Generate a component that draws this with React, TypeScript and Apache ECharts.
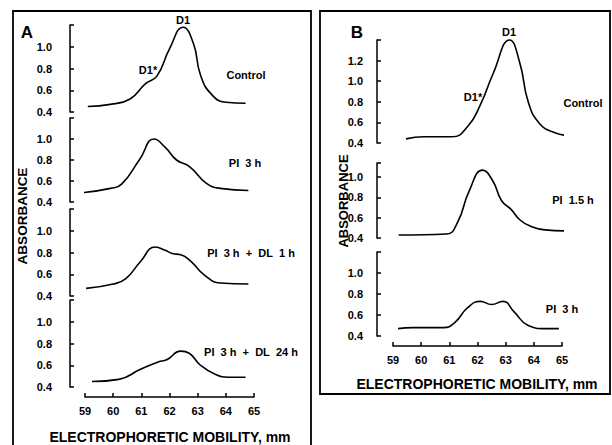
import React, { useEffect, useRef } from "react";
import * as echarts from "echarts";

// Electrophoretic mobility (mm) vs absorbance — panel A
const aControl = [[59.1,0.45],[59.9,0.47],[60.6,0.52],[61.15,0.66],[61.55,0.73],[62.0,0.98],[62.48,1.18],[62.85,1.03],[63.1,0.74],[63.5,0.56],[64.0,0.49],[64.7,0.48]];
const aPI3 = [[58.95,0.49],[59.9,0.53],[60.3,0.57],[60.95,0.81],[61.45,1.0],[61.85,0.92],[62.25,0.8],[62.7,0.74],[63.3,0.58],[63.8,0.53],[64.8,0.51]];
const aPI3DL1 = [[59.04,0.47],[60.0,0.51],[60.45,0.56],[60.95,0.71],[61.5,0.85],[61.85,0.82],[62.1,0.79],[62.4,0.78],[62.75,0.72],[63.25,0.59],[63.8,0.52],[64.8,0.51]];
const aPI3DL24 = [[59.25,0.45],[60.2,0.47],[60.95,0.56],[61.6,0.63],[61.9,0.65],[62.4,0.73],[62.7,0.71],[63.1,0.6],[63.6,0.52],[64.1,0.49],[64.7,0.49]];
// panel B
const bControl = [[59.46,0.44],[60.1,0.46],[61.1,0.46],[61.65,0.56],[62.1,0.77],[62.55,1.07],[63.14,1.4],[63.5,1.18],[63.8,0.8],[64.2,0.59],[64.75,0.5],[65.32,0.47]];
const bPI15 = [[59.2,0.43],[60.9,0.44],[61.3,0.56],[61.7,0.86],[62.18,1.07],[62.55,0.96],[62.85,0.77],[63.2,0.68],[63.5,0.58],[63.85,0.52],[64.4,0.48],[65.21,0.47]];
const bPI3 = [[59.18,0.47],[59.7,0.48],[60.8,0.48],[61.2,0.53],[61.65,0.67],[62.1,0.73],[62.5,0.7],[62.9,0.73],[63.3,0.63],[63.8,0.5],[64.4,0.47],[64.89,0.47]];

const xTicksMin = 59;
const xTicksMax = 65;

const FONT = "Liberation Sans";
const NB = "\u00a0";

export default function App() {
  const ref = useRef<HTMLDivElement>(null);
  useEffect(() => {
    if (!ref.current) return;
    const chart = echarts.init(ref.current, undefined, { renderer: "svg" });

    const panels = [
      { left: 85, top: 25, height: 87, yMax: 1.2, labelMax: 1.0, yOff: 15, lm: 18, data: aControl, showX: false },
      { left: 85, top: 118, height: 84, yMax: 1.2, labelMax: 1.0, yOff: 15, lm: 18, data: aPI3, showX: false },
      { left: 85, top: 209, height: 87, yMax: 1.2, labelMax: 1.0, yOff: 15, lm: 18, data: aPI3DL1, showX: false },
      { left: 85, top: 300, height: 87, yMax: 1.2, labelMax: 1.0, yOff: 15, lm: 18, data: aPI3DL24, showX: true },
      { left: 393, top: 40, height: 103, yMax: 1.4, labelMax: 1.2, yOff: 16, lm: 14, data: bControl, showX: false },
      { left: 393, top: 163, height: 75, yMax: 1.14, labelMax: 1.0, yOff: 16, lm: 14, data: bPI15, showX: false },
      { left: 393, top: 252, height: 84, yMax: 1.2, labelMax: 1.0, yOff: 16, lm: 14, data: bPI3, showX: true },
    ];

    const black = "#000";
    const grid = panels.map((p) => ({ left: p.left, top: p.top, width: 169, height: p.height }));
    const xAxis = panels.map((p, i) => ({
      gridIndex: i,
      type: "value",
      min: xTicksMin,
      max: xTicksMax,
      interval: 1,
      show: p.showX,
      offset: 10,
      axisLine: { show: true, lineStyle: { color: black, width: 1.5 } },
      axisTick: { show: true, inside: true, length: 4, lineStyle: { color: black, width: 1.5 } },
      axisLabel: { color: black, fontSize: 11, fontWeight: "bold", fontFamily: FONT, margin: 8 },
      splitLine: { show: false },
    }));
    const yAxis = panels.map((p, i) => ({
      gridIndex: i,
      type: "value",
      min: 0.4,
      max: p.yMax,
      interval: 0.2,
      offset: p.yOff,
      axisLine: { show: true, lineStyle: { color: black, width: 1.5 } },
      axisTick: { show: true, inside: true, length: 4, lineStyle: { color: black, width: 1.5 } },
      axisLabel: {
        color: black,
        fontSize: 11,
        fontWeight: "bold",
        fontFamily: FONT,
        margin: p.lm,
        showMaxLabel: true,
        showMinLabel: true,
        formatter: (v: number) => (v > p.labelMax + 0.01 ? "" : v.toFixed(1)),
      },
      splitLine: { show: false },
    }));
    const series = panels.map((p, i) => ({
      type: "line",
      xAxisIndex: i,
      yAxisIndex: i,
      data: p.data,
      smooth: 0.5,
      showSymbol: false,
      clip: false,
      lineStyle: { color: black, width: 1.6 },
    }));

    const txt = (x: number, y: number, text: string, size = 11, rotation = 0) => ({
      type: "text",
      x,
      y,
      rotation,
      style: {
        text,
        fill: black,
        font: `bold ${size}px "${FONT}"`,
        textAlign: "center",
        textVerticalAlign: "middle",
      },
    });

    const graphic = [
      { type: "rect", shape: { x: 13, y: 11, width: 298, height: 450 }, style: { fill: "none", stroke: black, lineWidth: 1.8 } },
      { type: "rect", shape: { x: 320, y: 11, width: 290, height: 383 }, style: { fill: "none", stroke: black, lineWidth: 1.8 } },
      txt(27, 32, "A", 17),
      txt(357, 32, "B", 17),
      txt(183, 20, "D1", 11),
      txt(148, 70, "D1*", 11),
      txt(246, 75, "Control", 11),
      txt(245, 163, `PI${NB}${NB}3${NB}h`, 11),
      txt(251, 253, `PI${NB}${NB}3${NB}h${NB}${NB}+${NB}${NB}DL${NB}${NB}1${NB}h`, 11),
      txt(251, 352, `PI${NB}${NB}3${NB}h${NB}${NB}+${NB}${NB}DL${NB}${NB}24${NB}h`, 11),
      txt(509, 32, "D1", 11),
      txt(473, 97, "D1*", 11),
      txt(583, 103, "Control", 11),
      txt(573, 200, `PI${NB}${NB}1.5${NB}h`, 11),
      txt(562, 309, `PI${NB}${NB}3${NB}h`, 11),
      txt(170, 437, "ELECTROPHORETIC MOBILITY, mm", 14),
      txt(477, 384, "ELECTROPHORETIC MOBILITY, mm", 14),
      txt(22, 216, "ABSORBANCE", 13.5, Math.PI / 2),
      txt(343, 201, "ABSORBANCE", 13, Math.PI / 2),
    ];

    chart.setOption({
      animation: false,
      backgroundColor: "#fff",
      grid,
      xAxis,
      yAxis,
      series,
      graphic,
    });
    return () => chart.dispose();
  }, []);

  return <div ref={ref} style={{ position: "absolute", left: 0, top: 0, width: 612, height: 445 }} />;
}
